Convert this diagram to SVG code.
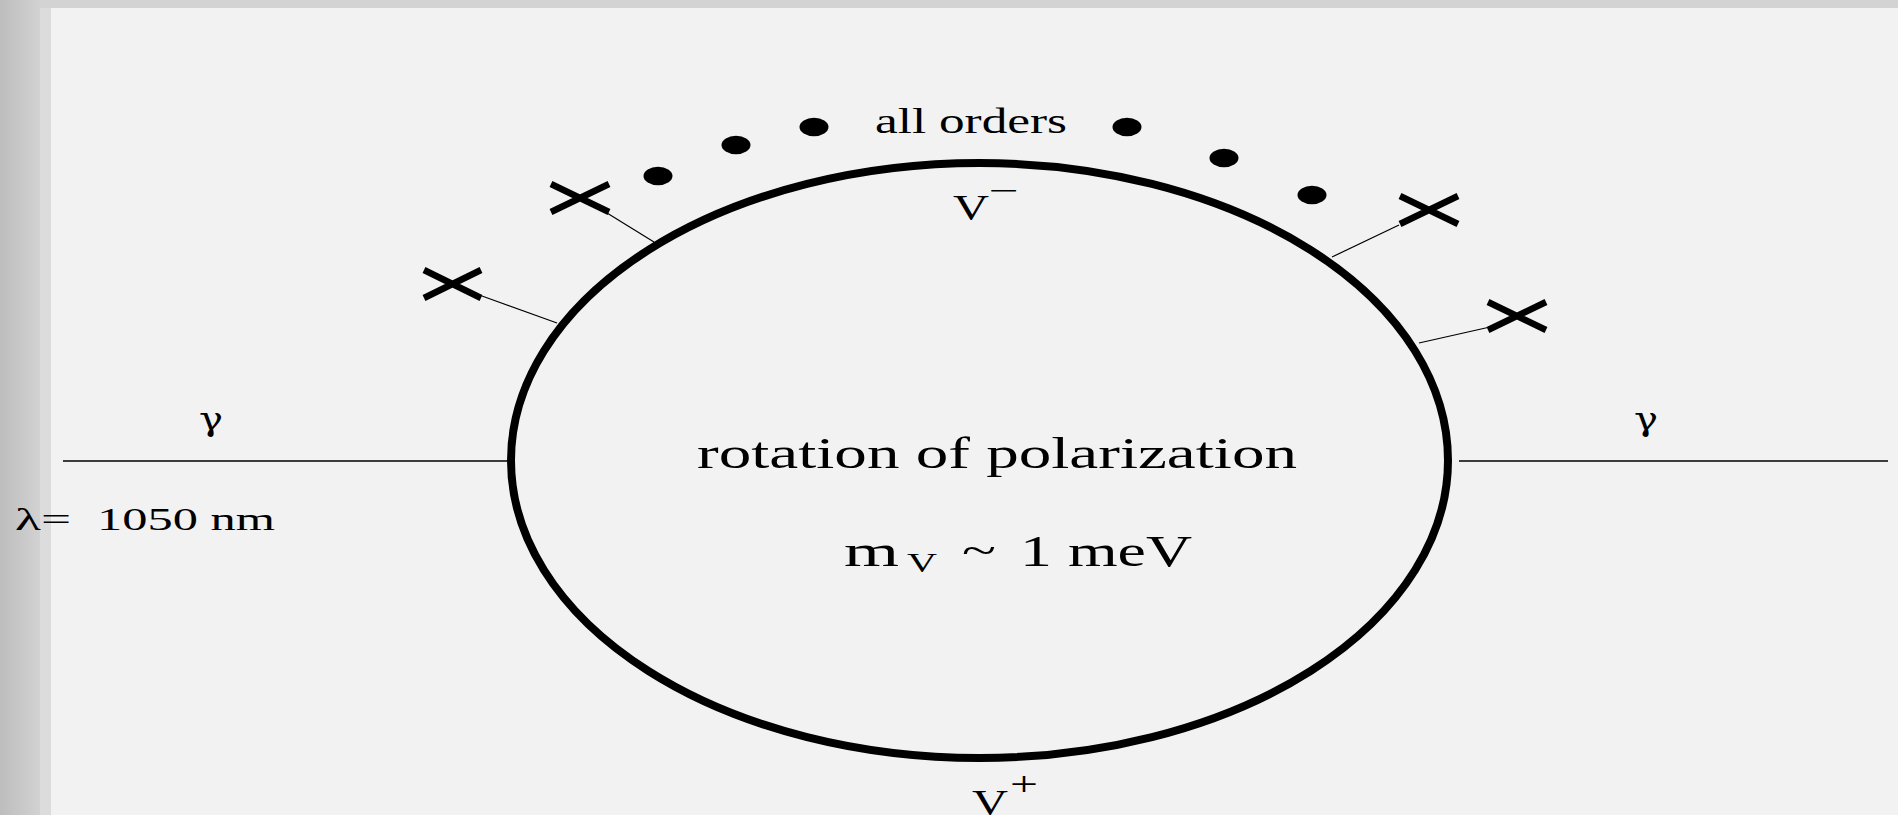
<svg xmlns="http://www.w3.org/2000/svg" width="1898" height="815" viewBox="0 0 1898 815">
<defs>
<linearGradient id="strip" x1="0" y1="0" x2="1" y2="0">
<stop offset="0" stop-color="#bdbdbd"/>
<stop offset="1" stop-color="#d2d2d2"/>
</linearGradient>
<style>
.t{font-family:"Liberation Serif","Times New Roman",serif;fill:#000}
.g{font-family:"DejaVu Serif",serif}
.x{stroke:#000;stroke-width:6.5;stroke-linecap:butt;fill:none}
.dot{fill:#000}
.thin{stroke:#000;stroke-width:1.2;fill:none}
.photon{stroke:#000;stroke-width:1.3;fill:none}
</style>
</defs>
<rect x="0" y="0" width="1898" height="815" fill="#f2f2f2"/>
<rect x="40" y="0" width="1858" height="8" fill="#d3d3d3"/>
<rect x="40" y="8" width="11" height="807" fill="#dcdcdc"/>
<rect x="0" y="0" width="40" height="815" fill="url(#strip)"/>

<g id="connectors">
<line class="photon" x1="63" y1="461" x2="507" y2="461"/>
<line class="photon" x1="1459" y1="461" x2="1888" y2="461"/>
<line class="thin" x1="482" y1="296" x2="557" y2="323"/>
<line class="thin" x1="607" y1="213" x2="654" y2="242"/>
<line class="thin" x1="1399" y1="225" x2="1332" y2="257"/>
<line class="thin" x1="1490" y1="327" x2="1419" y2="343"/>
</g>

<g id="loop">
<ellipse cx="979.5" cy="460.5" rx="468.5" ry="297.5" fill="none" stroke="#000" stroke-width="8"/>
<text class="t" x="697" y="468" font-size="45" textLength="600" lengthAdjust="spacingAndGlyphs">rotation of polarization</text>
<text class="t" x="844" y="566" font-size="44" textLength="55" lengthAdjust="spacingAndGlyphs">m</text>
<text class="t" x="907" y="572" font-size="27" textLength="30" lengthAdjust="spacingAndGlyphs">V</text>
<text class="t" x="962" y="564" font-size="40" textLength="34" lengthAdjust="spacingAndGlyphs">~</text>
<text class="t" x="1020" y="566" font-size="44" textLength="172" lengthAdjust="spacingAndGlyphs">1 meV</text>
</g>

<g id="label-vminus">
<text class="t" x="953" y="220" font-size="35" textLength="36" lengthAdjust="spacingAndGlyphs">V</text>
<text class="t" x="989" y="200" font-size="28" textLength="30" lengthAdjust="spacingAndGlyphs">−</text>
</g>
<g id="label-vplus">
<text class="t" x="972" y="815" font-size="35" textLength="36" lengthAdjust="spacingAndGlyphs">V</text>
<text class="t" x="1010" y="795" font-size="34" textLength="28" lengthAdjust="spacingAndGlyphs">+</text>
</g>

<g id="all-orders">
<text class="t" x="875" y="133" font-size="35" textLength="192" lengthAdjust="spacingAndGlyphs">all orders</text>
<ellipse class="dot" cx="658" cy="176" rx="14.5" ry="9.2"/>
<ellipse class="dot" cx="736" cy="145" rx="14.5" ry="9.2"/>
<ellipse class="dot" cx="814" cy="127" rx="14.5" ry="9.2"/>
<ellipse class="dot" cx="1127" cy="127" rx="14.5" ry="9.2"/>
<ellipse class="dot" cx="1224" cy="158" rx="14.5" ry="9.2"/>
<ellipse class="dot" cx="1312" cy="195" rx="14.5" ry="9.2"/>
</g>

<g id="cross1"><path class="x" d="M424 270 L481 298 M424 298 L481 270"/></g>
<g id="cross2"><path class="x" d="M551 184 L609 212 M551 212 L609 184"/></g>
<g id="cross3"><path class="x" d="M1400 196 L1458 224 M1400 224 L1458 196"/></g>
<g id="cross4"><path class="x" d="M1488 302 L1546 330 M1488 330 L1546 302"/></g>

<g id="photon-left">
<text class="t g" x="199" y="430" font-size="32" textLength="24" lengthAdjust="spacingAndGlyphs">γ</text>
<text class="t" x="15" y="530" font-size="31" textLength="56" lengthAdjust="spacingAndGlyphs">λ=</text>
<text class="t" x="97" y="530" font-size="31" textLength="178" lengthAdjust="spacingAndGlyphs">1050 nm</text>
</g>
<g id="photon-right">
<text class="t g" x="1634" y="430" font-size="32" textLength="24" lengthAdjust="spacingAndGlyphs">γ</text>
</g>
</svg>
